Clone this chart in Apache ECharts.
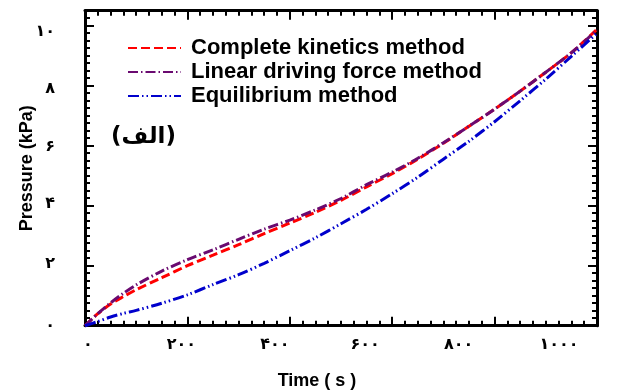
<!DOCTYPE html>
<html>
<head>
<meta charset="utf-8">
<script src="https://cdn.jsdelivr.net/npm/echarts@6/dist/echarts.min.js"></script>
<style>html,body{margin:0;padding:0;background:#fff;}#chart{width:622px;height:392px;}</style>
</head>
<body>
<div id="chart"></div>
<script>
// ---- data ----
const time = [0,25,50,75,100,150,200,250,300,350,400,450,500,550,600,650,700,750,800,850,900,950,1000];
const completeKinetics = [0,0.4,0.72,0.97,1.2,1.6,2.0,2.35,2.7,3.07,3.42,3.78,4.18,4.63,5.07,5.55,6.08,6.65,7.22,7.82,8.45,9.1,9.88];
const linearDrivingForce = [0,0.4,0.76,1.08,1.36,1.82,2.2,2.53,2.88,3.22,3.52,3.86,4.24,4.7,5.12,5.58,6.1,6.65,7.22,7.82,8.45,9.1,9.85];
const equilibrium = [0,0.14,0.29,0.41,0.51,0.75,1.03,1.37,1.7,2.08,2.5,2.93,3.4,3.88,4.4,4.95,5.55,6.15,6.8,7.5,8.22,8.98,9.75];
const seriesNames = ['Complete kinetics method','Linear driving force method','Equilibrium method'];
const xTickValues = [0,200,400,600,800,1000];
const xTickLabels = ['۰','۲۰۰','۴۰۰','۶۰۰','۸۰۰','۱۰۰۰'];
const yTickValues = [0,2,4,6,8,10];
const yTickLabels = ['۰','۲','۴','۶','۸','۱۰'];
const xTitle = 'Time ( s )';
const yTitle = 'Pressure (kPa)';
const panelLabel = '(الف)';

// ---- styling ----
const xLabelShift = [3,-6,-15,-27,-36,-38];   // px, label drift in the original
const yLabelShift = [0,-2,-2,1,3,6];
const xRich = {}, yRich = {};
const lblFont = {fontFamily:'DejaVu Sans', fontWeight:'bold', fontSize:16, color:'#000'};
xLabelShift.forEach((s,i)=>{ xRich['x'+i] = Object.assign({padding: s<0?[0,-2*s,0,0]:[0,0,0,2*s]}, lblFont); });
yLabelShift.forEach((s,i)=>{ yRich['y'+i] = Object.assign({padding: s<0?[0,0,-2*s,0]:[2*s,0,0,0]}, lblFont); });

const pair = (xs, ys) => xs.map((x,i)=>[x, ys[i]]);
const axisLine = {show:true, onZero:false, lineStyle:{color:'#000', width:3}};
const hiddenLine = {show:true, onZero:false, lineStyle:{color:'rgba(0,0,0,0)', width:0}};
const majorTick = {show:true, inside:true, length:9, lineStyle:{color:'#000', width:2}};
const minorTick = {show:true, inside:true, length:5, lineStyle:{color:'#000', width:2}};
const noLbl = {show:false};
const noSplit = {show:false};

const chart = echarts.init(document.getElementById('chart'), null, {renderer:'canvas'});
chart.setOption({
  backgroundColor:'#fff',
  animation:false,
  title:{text:panelLabel, left:106, top:121, textStyle:{fontFamily:'DejaVu Sans', fontWeight:'bold', fontSize:23, color:'#000'}},
  grid:{left:85, right:25, top:10.7, bottom:66.3, containLabel:false, outerBoundsMode:'none'},
  legend:{
    orient:'vertical', left:122, top:32, itemWidth:53, itemHeight:12, itemGap:2,
    data:seriesNames,
    itemStyle:{color:'rgba(0,0,0,0)', borderColor:'rgba(0,0,0,0)', borderWidth:0},
    textStyle:{fontFamily:'Liberation Sans', fontWeight:'bold', fontSize:22, lineHeight:21, color:'#000', padding:[0,0,0,5]}
  },
  xAxis:[
    {type:'value', position:'bottom', min:0, max:1000, interval:200,
     axisLine:axisLine, axisTick:majorTick, splitLine:noSplit,
     axisLabel:{margin:11, rich:xRich, formatter:(v)=>{const i=xTickValues.indexOf(v); return i<0?'':'{x'+i+'|'+xTickLabels[i]+'}';}},
     name:xTitle, nameLocation:'middle', nameGap:46,
     nameTextStyle:{fontFamily:'Liberation Sans', fontWeight:'bold', fontSize:18, color:'#000', padding:[0,48,0,0]}},
    {type:'value', position:'bottom', min:0, max:1000, interval:25,
     axisLine:hiddenLine, axisTick:minorTick, splitLine:noSplit, axisLabel:noLbl},
    {type:'value', position:'top', min:0, max:1000, interval:200,
     axisLine:axisLine, axisTick:majorTick, splitLine:noSplit, axisLabel:noLbl},
    {type:'value', position:'top', min:0, max:1000, interval:25,
     axisLine:hiddenLine, axisTick:minorTick, splitLine:noSplit, axisLabel:noLbl}
  ],
  yAxis:[
    {type:'value', position:'left', min:0, max:10.5, interval:2,
     axisLine:axisLine, axisTick:majorTick, splitLine:noSplit,
     axisLabel:{margin:30, rich:yRich, formatter:(v)=>{const i=yTickValues.indexOf(v); return i<0?'':'{y'+i+'|'+yTickLabels[i]+'}';}},
     name:yTitle, nameLocation:'middle', nameGap:49, nameMoveOverlap:false,
     nameTextStyle:{fontFamily:'Liberation Sans', fontWeight:'bold', fontSize:18, color:'#000'}},
    {type:'value', position:'left', min:0, max:10.5, interval:0.25,
     axisLine:hiddenLine, axisTick:minorTick, splitLine:noSplit, axisLabel:noLbl},
    {type:'value', position:'right', min:0, max:10.5, interval:2,
     axisLine:axisLine, axisTick:majorTick, splitLine:noSplit, axisLabel:noLbl},
    {type:'value', position:'right', min:0, max:10.5, interval:0.25,
     axisLine:hiddenLine, axisTick:minorTick, splitLine:noSplit, axisLabel:noLbl}
  ],
  series:[
    {name:seriesNames[0], type:'line', data:pair(time, completeKinetics), smooth:0.3, symbol:'none',
     color:'#ff0000', lineStyle:{color:'#ff0000', width:3, type:[9,4]}},
    {name:seriesNames[1], type:'line', data:pair(time, linearDrivingForce), smooth:0.3, symbol:'none',
     color:'#6a0a70', lineStyle:{color:'#6a0a70', width:3, type:[10,3,1.5,3]}},
    {name:seriesNames[2], type:'line', data:pair(time, equilibrium), smooth:0.3, symbol:'none',
     color:'#0000cc', lineStyle:{color:'#0000cc', width:3, type:[11,3,1.5,3,1.5,3]}}
  ]
});
</script>
</body>
</html>
